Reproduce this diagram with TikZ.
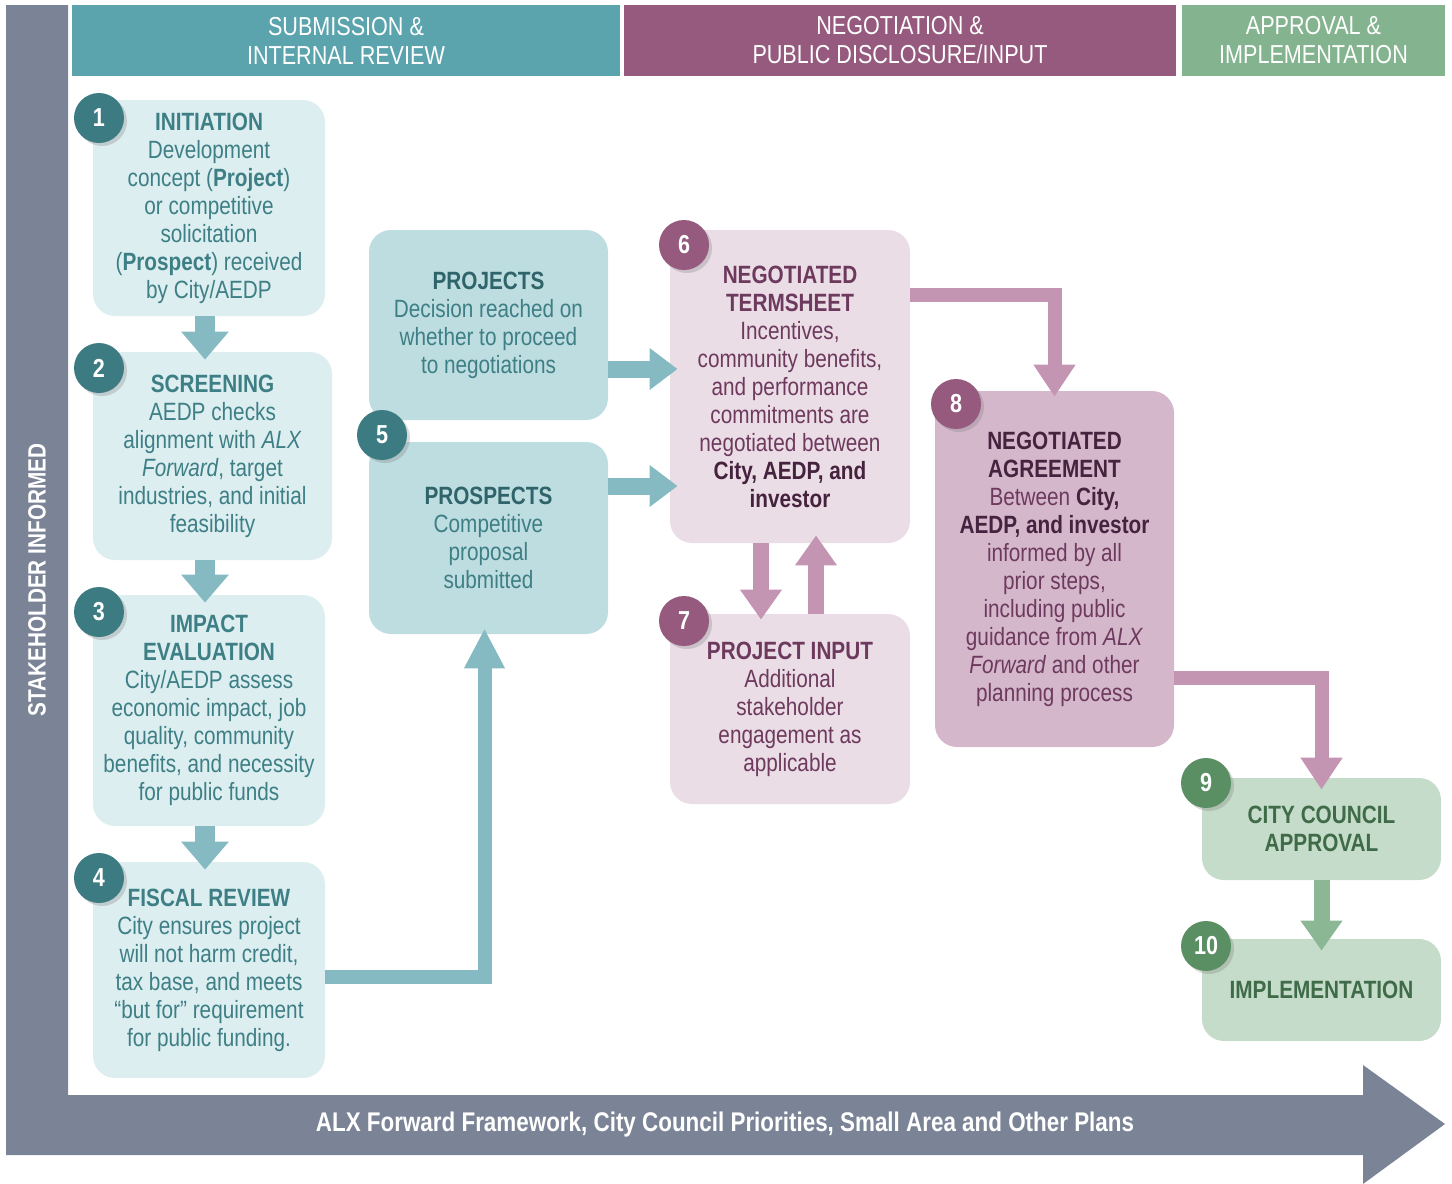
\documentclass[tikz,border=0pt]{standalone}
\usepackage{fontspec}
\setmainfont{Liberation Sans}[FakeStretch=0.83]
\usepackage{xcolor}
\usepackage{tikz}
\usetikzlibrary{arrows.meta,shadows}

\definecolor{framegray}{HTML}{7A8496}
\definecolor{tealhead}{HTML}{5BA4AD}
\definecolor{tealbadge}{HTML}{3D7B82}
\definecolor{tealtext}{HTML}{3E7F86}
\definecolor{tealtitle}{HTML}{2F646B}
\definecolor{teallight}{HTML}{DCEEF0}
\definecolor{tealmid}{HTML}{BEDDE0}
\definecolor{tealarrow}{HTML}{85BAC3}
\definecolor{plumhead}{HTML}{955A7D}
\definecolor{plumtext}{HTML}{6D3A5E}
\definecolor{plumdark}{HTML}{45223D}
\definecolor{plumlight}{HTML}{EBDDE6}
\definecolor{plummid}{HTML}{D5B7CC}
\definecolor{plumarrow}{HTML}{C495B2}
\definecolor{greenhead}{HTML}{84B38F}
\definecolor{greenbadge}{HTML}{5A8F64}
\definecolor{greenlight}{HTML}{C4DCC9}
\definecolor{greenarrow}{HTML}{8BB795}
\definecolor{greentext}{HTML}{3F6B48}

\begin{document}
\begin{tikzpicture}[x=0.5pt,y=-0.5pt,
  box/.style={rounded corners=11pt, align=center, inner sep=2pt,
    font=\fontsize{12.5}{14}\selectfont},
  phase/.style={fill=#1, text=white, align=center, inner sep=0pt,
    minimum height=35.5pt, font=\fontsize{13}{14.5}\selectfont},
  badge/.style={circle, fill=#1, text=white, inner sep=0pt, minimum size=25pt,
    font=\bfseries\fontsize{13}{13}\selectfont,
    drop shadow={opacity=0.3, shadow xshift=1.5pt, shadow yshift=-1.5pt}},
  tealstep/.style={draw=tealarrow, line width=10pt, shorten >=-4pt,
    -{Triangle[width=23pt,length=14pt]}},
  tealside/.style={draw=tealarrow, line width=8.5pt, shorten >=-4pt,
    -{Triangle[width=20pt,length=14pt]}},
  tealpipe/.style={draw=tealarrow, line width=7pt, shorten >=-3pt,
    -{Triangle[width=19pt,length=20pt]}},
  plumpipe/.style={draw=plumarrow, line width=7pt,
    -{Triangle[width=20pt,length=16pt]}},
  plumstep/.style={draw=plumarrow, line width=8pt,
    -{Triangle[width=20pt,length=15pt]}},
  greenstep/.style={draw=greenarrow, line width=8pt, shorten >=-6pt,
    -{Triangle[width=20pt,length=15pt]}}]

\useasboundingbox (0,0) rectangle (1452,1184);

% frame
\fill[framegray] (6,5) -- (68,5) -- (68,1095) -- (1363,1095) -- (1363,1065)
  -- (1445,1124) -- (1363,1184) -- (1363,1155) -- (6,1155) -- cycle;
\node[rotate=90, text=white, font=\bfseries\fontsize{12.5}{14}\selectfont] (side) at (37,580) {STAKEHOLDER INFORMED};
\node[text=white, font=\bfseries\fontsize{13.5}{14}\selectfont] (base) at (725,1125) {ALX Forward Framework, City Council Priorities, Small Area and Other Plans};

% phases
\node[phase=tealhead, minimum width=274pt] (ph1) at (346,40.5) {SUBMISSION \&\\INTERNAL REVIEW};
\node[phase=plumhead, minimum width=276pt] (ph2) at (900,40.5) {NEGOTIATION \&\\PUBLIC DISCLOSURE/INPUT};
\node[phase=greenhead, minimum width=131.5pt] (ph3) at (1313.5,40.5) {APPROVAL \&\\IMPLEMENTATION};

% submission
\node[box, fill=teallight, text=tealtext, minimum width=116pt, minimum height=108pt] (b1) at (209,208)
  {\textbf{INITIATION}\\Development\\concept (\textbf{Project})\\or competitive\\solicitation\\(\textbf{Prospect}) received\\by City/AEDP};
\node[box, fill=teallight, text=tealtext, minimum width=119.5pt, minimum height=104pt] (b2) at (212.5,456)
  {\textbf{SCREENING}\\AEDP checks\\alignment with \textit{ALX}\\\textit{Forward}, target\\industries, and initial\\feasibility};
\node[box, fill=teallight, text=tealtext, minimum width=116pt, minimum height=115.5pt] (b3) at (209,710.5)
  {\textbf{IMPACT}\\\textbf{EVALUATION}\\City/AEDP assess\\economic impact, job\\quality, community\\benefits, and necessity\\for public funds};
\node[box, fill=teallight, text=tealtext, minimum width=116pt, minimum height=108pt] (b4) at (209,970)
  {\textbf{FISCAL REVIEW}\\City ensures project\\will not harm credit,\\tax base, and meets\\“but for” requirement\\for public funding.};
\node[box, fill=tealmid, text=tealtext, minimum width=119.5pt, minimum height=95pt] (proj) at (488.5,325)
  {\textcolor{tealtitle}{\textbf{PROJECTS}}\\Decision reached on\\whether to proceed\\to negotiations};
\node[box, fill=tealmid, text=tealtext, minimum width=119.5pt, minimum height=96pt] (prosp) at (488.5,538)
  {\textcolor{tealtitle}{\textbf{PROSPECTS}}\\Competitive\\proposal\\submitted};

% negotiation
\node[box, fill=plumlight, text=plumtext, minimum width=120pt, minimum height=156.5pt] (b6) at (790,386.5)
  {\textbf{NEGOTIATED}\\\textbf{TERMSHEET}\\Incentives,\\community benefits,\\and performance\\commitments are\\negotiated between\\\textcolor{plumdark}{\textbf{City, AEDP, and}}\\\textcolor{plumdark}{\textbf{investor}}};
\node[box, fill=plumlight, text=plumtext, minimum width=120pt, minimum height=95pt] (b7) at (790,709)
  {\textbf{PROJECT INPUT}\\Additional\\stakeholder\\engagement as\\applicable};
\node[box, fill=plummid, text=plumtext, minimum width=119.5pt, minimum height=178pt] (b8) at (1054.5,569)
  {\textcolor{plumdark}{\textbf{NEGOTIATED}}\\\textcolor{plumdark}{\textbf{AGREEMENT}}\\Between \textcolor{plumdark}{\textbf{City,}}\\\textcolor{plumdark}{\textbf{AEDP, and investor}}\\informed by all\\prior steps,\\including public\\guidance from \textit{ALX}\\\textit{Forward} and other\\planning process};

% approval
\node[box, fill=greenlight, text=greentext, minimum width=119.5pt, minimum height=51pt, font=\bfseries\fontsize{12.5}{14}\selectfont] (b9) at (1321.5,829)
  {CITY COUNCIL\\APPROVAL};
\node[box, fill=greenlight, text=greentext, minimum width=119.5pt, minimum height=51pt, font=\bfseries\fontsize{12.5}{14}\selectfont] (b10) at (1321.5,990)
  {IMPLEMENTATION};

% arrows
\draw[tealstep] ([xshift=-2pt]b1.south) -- ([xshift=-2pt]b1.south |- b2.north);
\draw[tealstep] ([xshift=-2pt]b1.south |- b2.south) -- ([xshift=-2pt]b1.south |- b3.north);
\draw[tealstep] ([xshift=-2pt]b3.south) -- ([xshift=-2pt]b4.north);
\draw[tealpipe] ([yshift=-3.5pt]b4.east) -| ([xshift=-2pt]prosp.south);
\draw[tealside] ([yshift=-22pt]proj.east) -- ([yshift=-22pt]proj.east -| b6.west);
\draw[tealside] ([yshift=26pt]prosp.east) -- ([yshift=26pt]prosp.east -| b6.west);
\draw[plumpipe, shorten >=-3pt] ([yshift=46pt]b6.east) -| (b8.north);
\draw[plumstep, shorten >=-3pt] ([xshift=-14.5pt]b6.south) -- ([xshift=-14.5pt]b7.north);
\draw[plumstep, shorten >=-4pt] ([xshift=13pt]b7.north) -- ([xshift=13pt]b6.south);
\draw[plumpipe, shorten >=-6pt] ([yshift=-54.5pt]b8.east) -| (b9.north);
\draw[greenstep] (b9.south) -- (b10.north);

% badges
\node[badge=tealbadge] (n1) at (99,118) {1};
\node[badge=tealbadge] (n2) at (99,368) {2};
\node[badge=tealbadge] (n3) at (99,612) {3};
\node[badge=tealbadge] (n4) at (99,878) {4};
\node[badge=tealbadge] (n5) at (382,435) {5};
\node[badge=plumhead] (n6) at (684,245) {6};
\node[badge=plumhead] (n7) at (684,621) {7};
\node[badge=plumhead] (n8) at (956,404) {8};
\node[badge=greenbadge] (n9) at (1206,783) {9};
\node[badge=greenbadge] (n10) at (1206,946) {10};

\end{tikzpicture}
\end{document}
